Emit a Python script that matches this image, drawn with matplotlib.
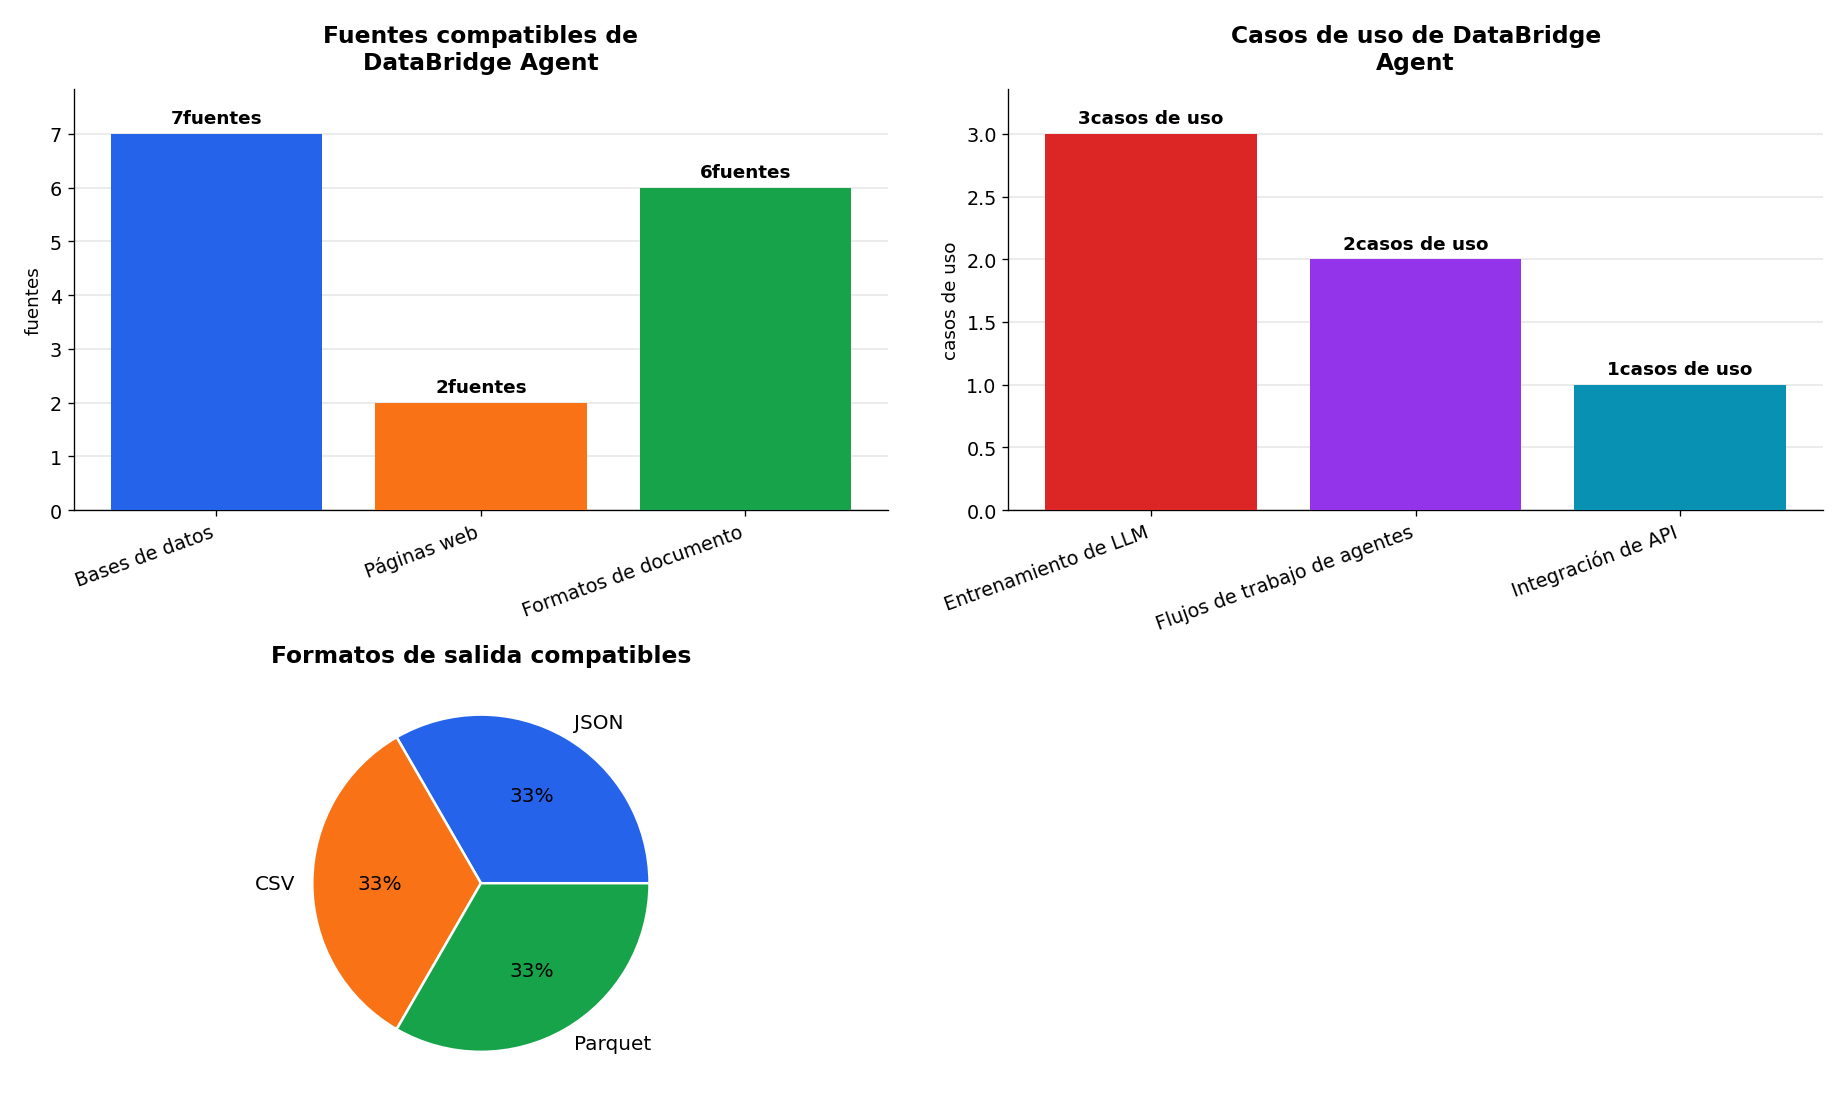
import matplotlib
matplotlib.use("Agg")
import matplotlib.pyplot as plt

# data
sources = ["Bases de datos", "Páginas web", "Formatos de documento"]
source_counts = [7, 2, 6]
source_colors = ["#2563eb", "#f97316", "#16a34a"]

use_cases = ["Entrenamiento de LLM", "Flujos de trabajo de agentes", "Integración de API"]
use_case_counts = [3, 2, 1]
use_case_colors = ["#dc2626", "#9333ea", "#0891b2"]

formats = ["JSON", "CSV", "Parquet"]
format_shares = [1, 1, 1]
format_colors = ["#2563eb", "#f97316", "#16a34a"]


def bar_panel(ax, cats, vals, colors, title, unit):
    bars = ax.bar(cats, vals, color=colors, width=0.8, zorder=3)
    ax.set_title(title, fontsize=14, fontweight="bold", pad=12)
    ax.set_ylabel(unit, fontsize=11)
    ax.set_ylim(0, max(vals) * 1.12)
    ax.grid(axis="y", color="#e8e8e8", linewidth=1, zorder=0)
    ax.spines["top"].set_visible(False)
    ax.spines["right"].set_visible(False)
    ax.tick_params(axis="both", labelsize=11.5)
    plt.setp(ax.get_xticklabels(), rotation=20, ha="right")
    for b, v in zip(bars, vals):
        ax.annotate(f"{v}{unit}", (b.get_x() + b.get_width() / 2, v),
                    xytext=(0, 4), textcoords="offset points",
                    ha="center", va="bottom", fontsize=11, fontweight="bold")


fig, axes = plt.subplots(2, 2, figsize=(15.4, 9.333), dpi=120)

bar_panel(axes[0, 0], sources, source_counts, source_colors,
          "Fuentes compatibles de\nDataBridge Agent", "fuentes")
bar_panel(axes[0, 1], use_cases, use_case_counts, use_case_colors,
          "Casos de uso de DataBridge\nAgent", "casos de uso")

ax = axes[1, 0]
ax.pie(format_shares, labels=formats, colors=format_colors, autopct="%1.0f%%",
       startangle=0, wedgeprops={"edgecolor": "white", "linewidth": 1.5},
       textprops={"fontsize": 12})
ax.set_title("Formatos de salida compatibles", fontsize=14, fontweight="bold")
ax.set_aspect("equal")

axes[1, 1].axis("off")

fig.tight_layout(pad=1.5)
fig.savefig("out.png", dpi=120)
